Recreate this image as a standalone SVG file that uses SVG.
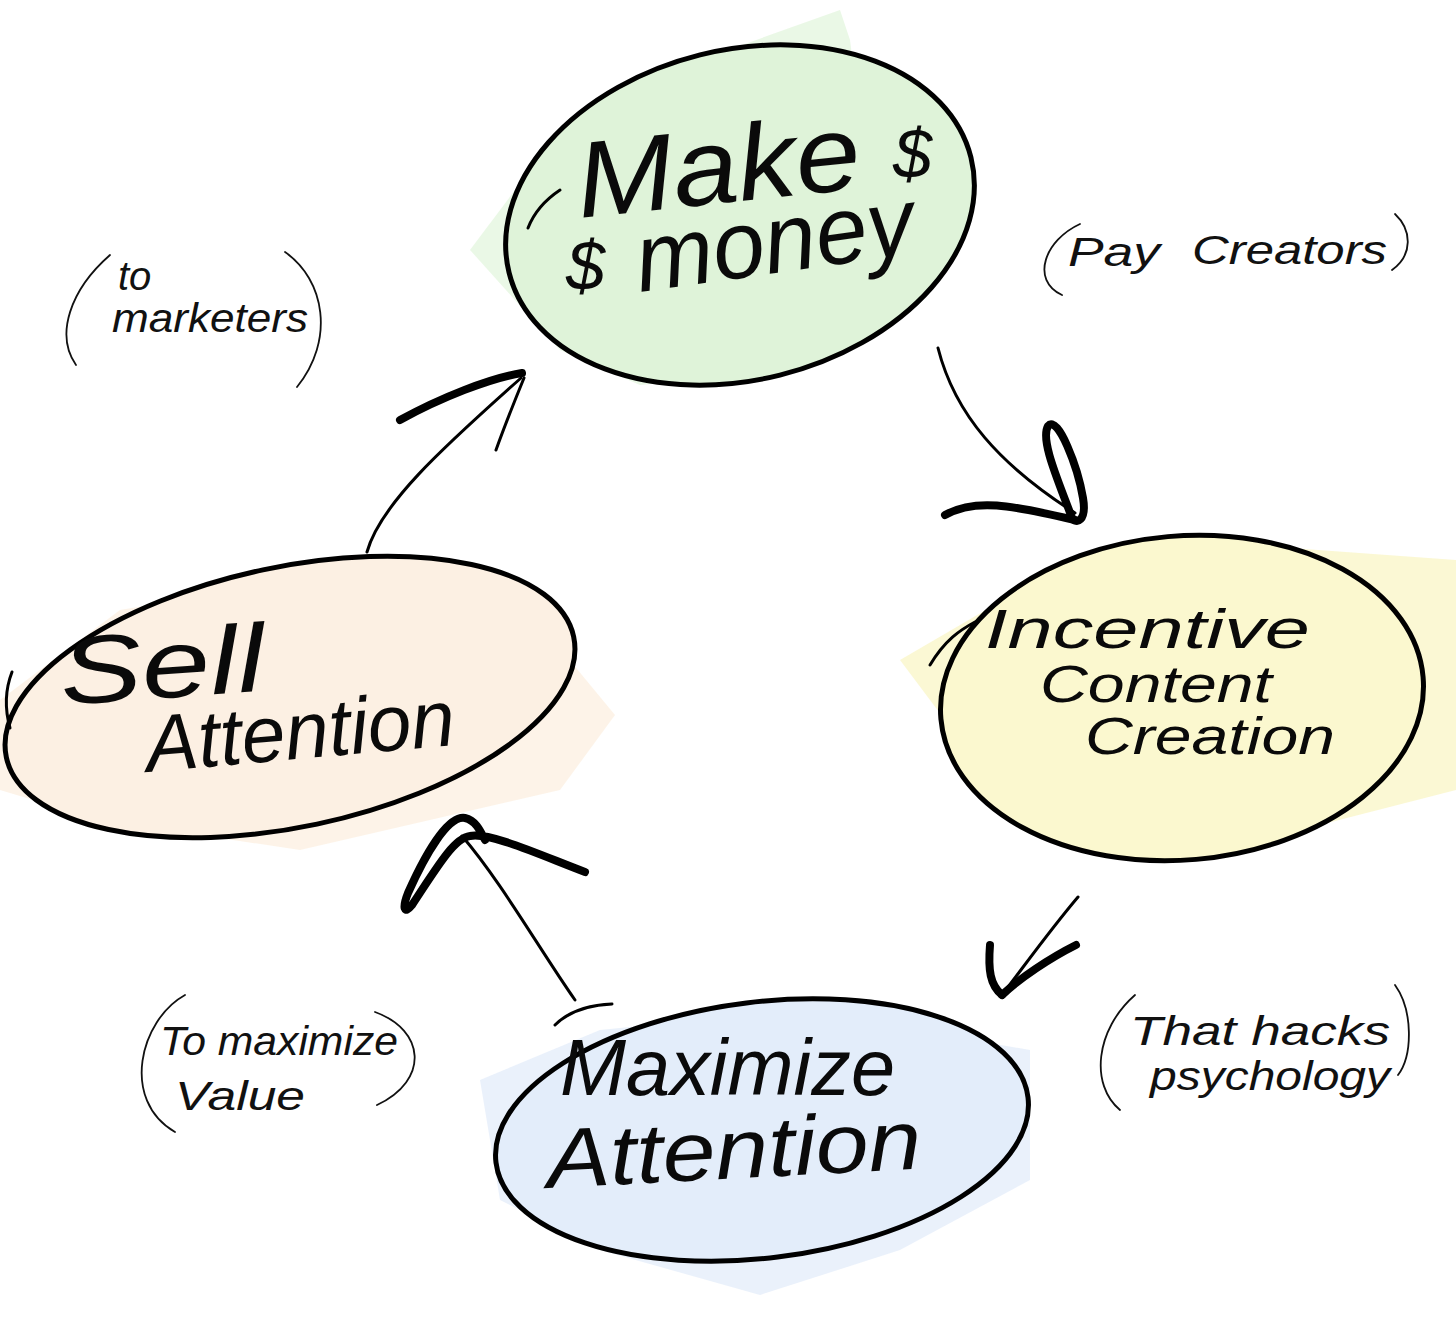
<svg xmlns="http://www.w3.org/2000/svg" width="1456" height="1324" viewBox="0 0 1456 1324">
<style>
.outline{fill:none;stroke:#000;stroke-width:5;stroke-linecap:round;stroke-linejoin:round}
.main{font-family:"Liberation Sans",Arial,sans-serif;font-style:italic;fill:#0a0a0a}
.note{font-family:"Liberation Sans",Arial,sans-serif;font-style:italic;fill:#111;font-size:40px}
.paren{fill:none;stroke:#111;stroke-width:1.8;stroke-linecap:round}
.thin{fill:none;stroke:#000;stroke-width:3;stroke-linecap:round;stroke-linejoin:round}
.thick{fill:none;stroke:#000;stroke-width:8;stroke-linecap:round;stroke-linejoin:round}
.wash{opacity:0.55}
</style>
<rect width="1456" height="1324" fill="#fff"/>

<g id="node-make-money">
  <path class="wash" d="M470,250 L560,130 L700,60 L840,10 L850,40 L860,120 L850,260 L800,370 L640,385 L560,350 Z" fill="#d9f2d2"/>
  <ellipse cx="740" cy="215" rx="238" ry="165" transform="rotate(-14 740 215)" fill="#dff3d9"/>
  <ellipse cx="740" cy="215" rx="238" ry="165" transform="rotate(-14 740 215)" class="outline"/>
  <path d="M528,228 C535,210 548,198 560,190" class="thin"/>
  <text class="main" x="580" y="218" font-size="108" textLength="285" lengthAdjust="spacingAndGlyphs" transform="rotate(-6 580 218)">Make</text>
  <text class="main" x="893" y="178" font-size="70">$</text>
  <text class="main" x="566" y="290" font-size="70">$</text>
  <text class="main" x="640" y="292" font-size="96" textLength="280" lengthAdjust="spacingAndGlyphs" transform="rotate(-8 640 292)">money</text>
</g>

<g id="node-incentive">
  <path class="wash" d="M900,660 L1020,590 L1250,545 L1456,560 L1456,790 L1300,830 L1100,800 L960,740 Z" fill="#f8f2b0"/>
  <ellipse cx="1182" cy="698" rx="242" ry="162" transform="rotate(-5 1182 698)" fill="#fbf8cf"/>
  <ellipse cx="1182" cy="698" rx="242" ry="162" transform="rotate(-5 1182 698)" class="outline"/>
  <path d="M930,665 C945,640 960,630 975,622" class="thin"/>
  <text class="main" x="985" y="648" font-size="56" textLength="325" lengthAdjust="spacingAndGlyphs">Incentive</text>
  <text class="main" x="1040" y="702" font-size="52" textLength="232" lengthAdjust="spacingAndGlyphs">Content</text>
  <text class="main" x="1085" y="754" font-size="52" textLength="250" lengthAdjust="spacingAndGlyphs">Creation</text>
</g>

<g id="node-maximize">
  <path class="wash" d="M480,1080 L600,1030 L800,1010 L1030,1050 L1030,1180 L900,1250 L760,1295 L600,1250 L500,1200 Z" fill="#d9e6f8"/>
  <ellipse cx="762" cy="1130" rx="268" ry="128" transform="rotate(-7 762 1130)" fill="#e3edfa"/>
  <ellipse cx="762" cy="1130" rx="268" ry="128" transform="rotate(-7 762 1130)" class="outline"/>
  <path d="M555,1025 C570,1010 590,1005 612,1004" class="thin"/>
  <text class="main" x="560" y="1095" font-size="80" textLength="335" lengthAdjust="spacingAndGlyphs">Maximize</text>
  <text class="main" x="548" y="1188" font-size="84" textLength="375" lengthAdjust="spacingAndGlyphs" transform="rotate(-3 548 1188)">Attention</text>
</g>

<g id="node-sell">
  <path class="wash" d="M0,700 L120,610 L300,580 L520,600 L615,715 L560,790 L300,850 L100,820 L0,790 Z" fill="#fbe9d6"/>
  <ellipse cx="290" cy="697" rx="290" ry="130" transform="rotate(-12 290 697)" fill="#fcf0e3"/>
  <ellipse cx="290" cy="697" rx="290" ry="130" transform="rotate(-12 290 697)" class="outline"/>
  <path d="M12,672 C5,690 5,710 10,728" class="thin"/>
  <text class="main" x="62" y="705" font-size="96" textLength="205" lengthAdjust="spacingAndGlyphs" transform="rotate(-4 62 705)">Sell</text>
  <text class="main" x="148" y="772" font-size="80" textLength="310" lengthAdjust="spacingAndGlyphs" transform="rotate(-5 148 772)">Attention</text>
</g>

<g id="connectors">
  <path d="M367,552 C380,505 440,450 521,378" class="thin"/>
  <path d="M400,420 C440,398 490,378 522,373" class="thick"/>
  <path d="M496,450 C505,425 515,400 524,378" class="thin"/>

  <path d="M938,348 C955,415 1000,465 1075,513" class="thin"/>
  <path d="M1072,518 C1058,480 1040,440 1048,426 C1058,414 1078,468 1083,498 C1087,522 1076,524 1072,518" class="thick" stroke-width="6"/>
  <path d="M945,515 C975,498 1010,505 1075,520" class="thick"/>

  <path d="M1078,897 C1050,930 1025,965 1002,995" class="thin"/>
  <path d="M990,945 C988,970 990,985 1002,995" class="thick"/>
  <path d="M1076,945 C1050,958 1020,978 1002,995" class="thick" stroke-width="7"/>

  <path d="M575,1000 C540,950 500,880 462,836" class="thin"/>
  <path d="M585,872 C540,855 490,832 470,836 C455,838 440,862 412,905 C404,915 402,908 408,893 C425,855 448,815 465,818 C475,820 480,830 485,840" class="thick" stroke-width="6"/>
</g>

<g id="label-to-marketers">
  <path d="M110,255 C70,290 55,335 76,365" class="paren"/>
  <path d="M285,252 C325,280 335,340 297,387" class="paren"/>
  <text class="note" x="118" y="290">to</text>
  <text class="note" x="112" y="332" textLength="196" lengthAdjust="spacingAndGlyphs">marketers</text>
</g>

<g id="label-pay-creators">
  <path d="M1080,224 C1045,240 1030,280 1062,295" class="paren"/>
  <path d="M1395,214 C1412,230 1413,255 1392,270" class="paren"/>
  <text class="note" x="1068" y="266" textLength="92" lengthAdjust="spacingAndGlyphs">Pay</text>
  <text class="note" x="1192" y="264" textLength="195" lengthAdjust="spacingAndGlyphs">Creators</text>
</g>

<g id="label-to-maximize-value">
  <path d="M185,995 C140,1020 120,1100 175,1132" class="paren"/>
  <path d="M375,1012 C425,1030 430,1080 377,1105" class="paren"/>
  <text class="note" x="160" y="1055" textLength="238" lengthAdjust="spacingAndGlyphs">To maximize</text>
  <text class="note" x="175" y="1110" textLength="130" lengthAdjust="spacingAndGlyphs">Value</text>
</g>

<g id="label-that-hacks">
  <path d="M1135,995 C1095,1030 1090,1085 1120,1110" class="paren"/>
  <path d="M1395,985 C1413,1010 1413,1055 1398,1075" class="paren"/>
  <text class="note" x="1130" y="1045" textLength="260" lengthAdjust="spacingAndGlyphs">That hacks</text>
  <text class="note" x="1150" y="1090" textLength="240" lengthAdjust="spacingAndGlyphs">psychology</text>
</g>
</svg>
